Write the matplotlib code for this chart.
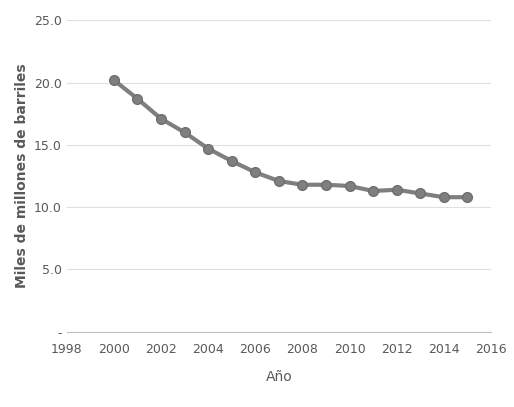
import numpy as np
import matplotlib.pyplot as plt

years = [2000, 2001, 2002, 2003, 2004, 2005, 2006, 2007, 2008, 2009, 2010, 2011, 2012, 2013, 2014, 2015]
reservas = [20.2, 18.7, 17.1, 16.0, 14.7, 13.7, 12.8, 12.1, 11.8, 11.8, 11.7, 11.3, 11.4, 11.1, 10.8, 10.8]
yticks = [0, 5, 10, 15, 20, 25]
ytick_labels = ["-", "5.0", "10.0", "15.0", "20.0", "25.0"]

fig = plt.figure(figsize=(5.14, 4.07), dpi=100)
ax = fig.add_axes([0.13, 0.185, 0.825, 0.765])
ax.plot(years, reservas, "-o", color="#7f7f7f", lw=3, ms=7, mec="#6f6f6f")
ax.set_xlim(1998, 2016)
ax.set_ylim(0, 25)
ax.set_xticks(range(1998, 2017, 2))
ax.set_yticks(yticks)
ax.set_yticklabels(ytick_labels)
ax.grid(axis="y", color="#e0e0e0", lw=0.8)
ax.set_axisbelow(True)
for s in ["top", "right", "left"]:
    ax.spines[s].set_visible(False)
ax.spines["bottom"].set_color("#bfbfbf")
ax.tick_params(axis="both", length=0, labelsize=9, colors="#595959")
ax.tick_params(axis="x", pad=8)
ax.set_xlabel("Año", fontsize=10, color="#595959", labelpad=10)
ax.set_ylabel("Miles de millones de barriles", fontsize=10, fontweight="bold", color="#595959")
fig.savefig("out.png", dpi=100)
